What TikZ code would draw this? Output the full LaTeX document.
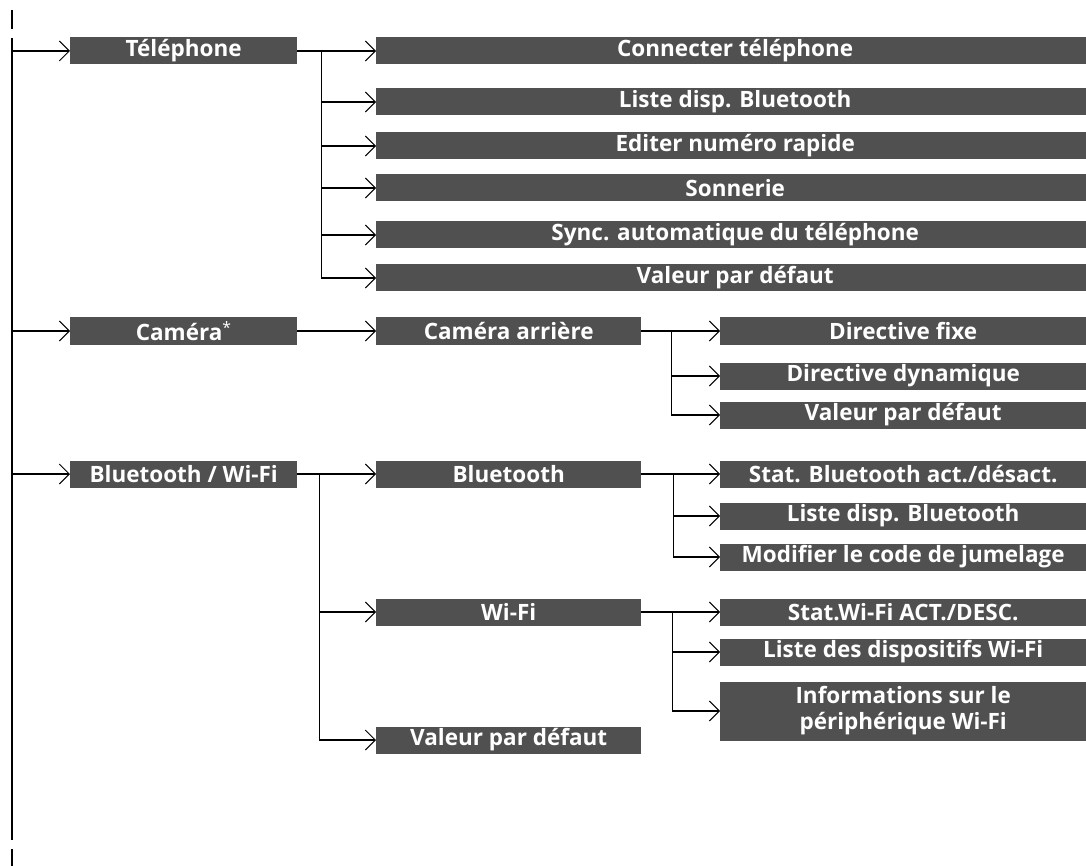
\documentclass[tikz,border=0pt]{standalone}
\usepackage{fontspec}
\setmainfont{Open Sans}
\usepackage{xcolor}
\usepackage{tikz}
\usetikzlibrary{arrows.meta, calc}
\definecolor{menugray}{RGB}{80,80,80}
\tikzset{
    menubox/.style={rectangle, fill=menugray, text=white, anchor=west, inner sep=0pt, minimum height=27pt, align=center, font=\fontsize{22.5}{26}\selectfont\bfseries},
    lvlone/.style={menubox, minimum width=227pt},
    lvltwo/.style={menubox, minimum width=265pt},
    lvlwide/.style={menubox, minimum width=718pt},
    lvlthree/.style={menubox, minimum width=366pt},
    arrow/.style={line width=1.6pt, -{Straight Barb[length=10pt, width=20pt, line width=1pt]}},
    link/.style={line width=1.6pt}
}

\begin{document}
\begin{tikzpicture}[x=1pt, y=-1pt]
    \useasboundingbox (0,0) rectangle (1086,866);

    % first level
    \node (tel) [lvlone] at (70,51) {Téléphone};
    \node (cam) [lvlone] at (70,331) {Caméra\textsuperscript{\mdseries *}};
    \node (btwifi) [lvlone] at (70,474) {Bluetooth / Wi-Fi};

    % Téléphone
    \node (connect) [lvlwide] at (376,51) {Connecter téléphone};
    \node (listbt) [lvlwide] at (376,102) {Liste disp. Bluetooth};
    \node (speed) [lvlwide] at (376,146) {Editer numéro rapide};
    \node (ring) [lvlwide] at (376,188) {Sonnerie};
    \node (sync) [lvlwide] at (376,235) {Sync. automatique du téléphone};
    \node (teldef) [lvlwide] at (376,278) {Valeur par défaut};

    % Caméra
    \node (rear) [lvltwo] at (376,331) {Caméra arrière};
    \node (fixed) [lvlthree] at (720,331) {Directive fixe};
    \node (dynamic) [lvlthree] at (720,376) {Directive dynamique};
    \node (camdef) [lvlthree] at (720,415) {Valeur par défaut};

    % Bluetooth / Wi-Fi
    \node (bt) [lvltwo] at (376,474) {Bluetooth};
    \node (btstat) [lvlthree] at (720,474) {Stat. Bluetooth act./désact.};
    \node (btlist) [lvlthree] at (720,516) {Liste disp. Bluetooth};
    \node (btcode) [lvlthree] at (720,557) {Modifier le code de jumelage};
    \node (wifi) [lvltwo] at (376,612) {Wi-Fi};
    \node (wifistat) [lvlthree] at (720,612) {Stat.Wi-Fi ACT./DESC.};
    \node (wifilist) [lvlthree] at (720,652) {Liste des dispositifs Wi-Fi};
    \node (wifiinfo) [lvlthree, minimum height=59pt] at (720,711) {Informations sur le\\périphérique Wi-Fi};
    \node (btdef) [lvltwo] at (376,740) {Valeur par défaut};

    % branch points
    \coordinate (spine) at (12,38);
    \coordinate (spineend) at (12,840);
    \coordinate (telbr) at ($(tel.east)+(24,0)$);
    \coordinate (rearbr) at ($(rear.east)+(30,0)$);
    \coordinate (btwifibr) at ($(btwifi.east)+(22,0)$);
    \coordinate (btbr) at ($(bt.east)+(32,0)$);
    \coordinate (wifibr) at ($(wifi.east)+(31,0)$);

    \draw [link] (12,10) -- (12,29);
    \draw [link] (spine) -- (spineend);
    \draw [link] (12,849) -- (12,866);
    \draw [arrow] (spine |- tel.west) -- (tel.west);
    \draw [arrow] (spine |- cam.west) -- (cam.west);
    \draw [arrow] (spine |- btwifi.west) -- (btwifi.west);

    \draw [link] (tel.east) -- (telbr);
    \foreach \n in {connect, listbt, speed, ring, sync, teldef}
        \draw [arrow] (telbr) |- (\n.west);

    \draw [arrow] (cam.east) -- (rear.west);
    \draw [link] (rear.east) -- (rearbr);
    \foreach \n in {fixed, dynamic, camdef}
        \draw [arrow] (rearbr) |- (\n.west);

    \draw [link] (btwifi.east) -- (btwifibr);
    \foreach \n in {bt, wifi, btdef}
        \draw [arrow] (btwifibr) |- (\n.west);

    \draw [link] (bt.east) -- (btbr);
    \foreach \n in {btstat, btlist, btcode}
        \draw [arrow] (btbr) |- (\n.west);

    \draw [link] (wifi.east) -- (wifibr);
    \foreach \n in {wifistat, wifilist, wifiinfo}
        \draw [arrow] (wifibr) |- (\n.west);
\end{tikzpicture}
\end{document}
